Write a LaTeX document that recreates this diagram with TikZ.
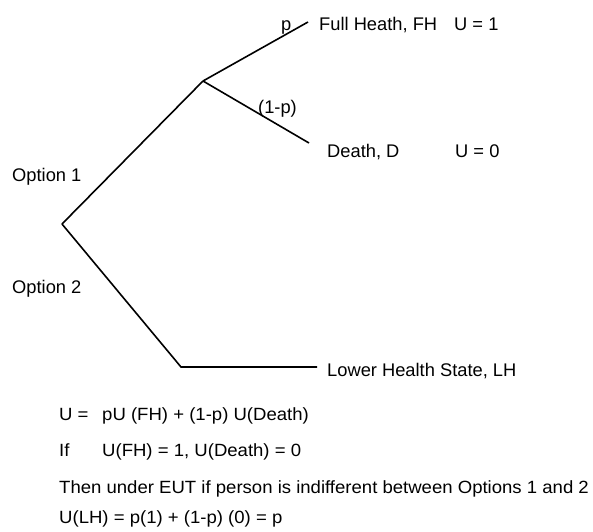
\documentclass[tikz,border=0pt]{standalone}
\usepackage{fontspec}
\setmainfont{Liberation Sans}
\newfontfamily\eqfont[FakeStretch=1.048]{Liberation Sans}
\begin{document}
\begin{tikzpicture}[x=1pt,y=-1pt,
  branch/.style={line width=1.6pt, line cap=butt, line join=miter},
  lbl/.style={anchor=base west, inner sep=0pt, font=\fontsize{18.3}{20}\selectfont},
  eq/.style={anchor=base west, inner sep=0pt, font=\eqfont\fontsize{17.7}{19}\selectfont}]
\useasboundingbox[fill=white] (0,0) rectangle (593,531);
% tree points
\coordinate (root) at (62,224);
\coordinate (chance) at (203,81);
\coordinate (fhend) at (308,22);
\coordinate (dend) at (309,143);
\coordinate (bend) at (181,367);
\coordinate (lhend) at (317,367);
% branches
\draw[branch] (root) -- (chance);
\draw[branch] (chance) -- (fhend);
\draw[branch] (chance) -- (dend);
\draw[branch] (root) -- (bend) -- (lhend);
% labels
\node[lbl] (p) at (281,30) {p};
\node[lbl] (fh) at (319,30) {Full Heath, FH};
\node[lbl] (u1) at (454,30) {U = 1};
\node[lbl] (q) at (258,113) {(1-p)};
\node[lbl] (d) at (327,157) {Death, D};
\node[lbl] (u0) at (455,157) {U = 0};
\node[lbl] (opt1) at (12,181) {Option 1};
\node[lbl] (opt2) at (12,293) {Option 2};
\node[lbl] (lh) at (327,376) {Lower Health State, LH};
% equations
\node[eq] (e1a) at (59,420) {U =};
\node[eq] (e1b) at (102,420) {pU (FH) + (1-p) U(Death)};
\node[eq] (e2a) at (59,456) {If};
\node[eq] (e2b) at (102,456) {U(FH) = 1, U(Death) = 0};
\node[eq] (e3) at (59,493) {Then under EUT if person is indifferent between Options 1 and 2};
\node[eq] (e4) at (59,523) {U(LH) = p(1) + (1-p) (0) = p};
\end{tikzpicture}
\end{document}
